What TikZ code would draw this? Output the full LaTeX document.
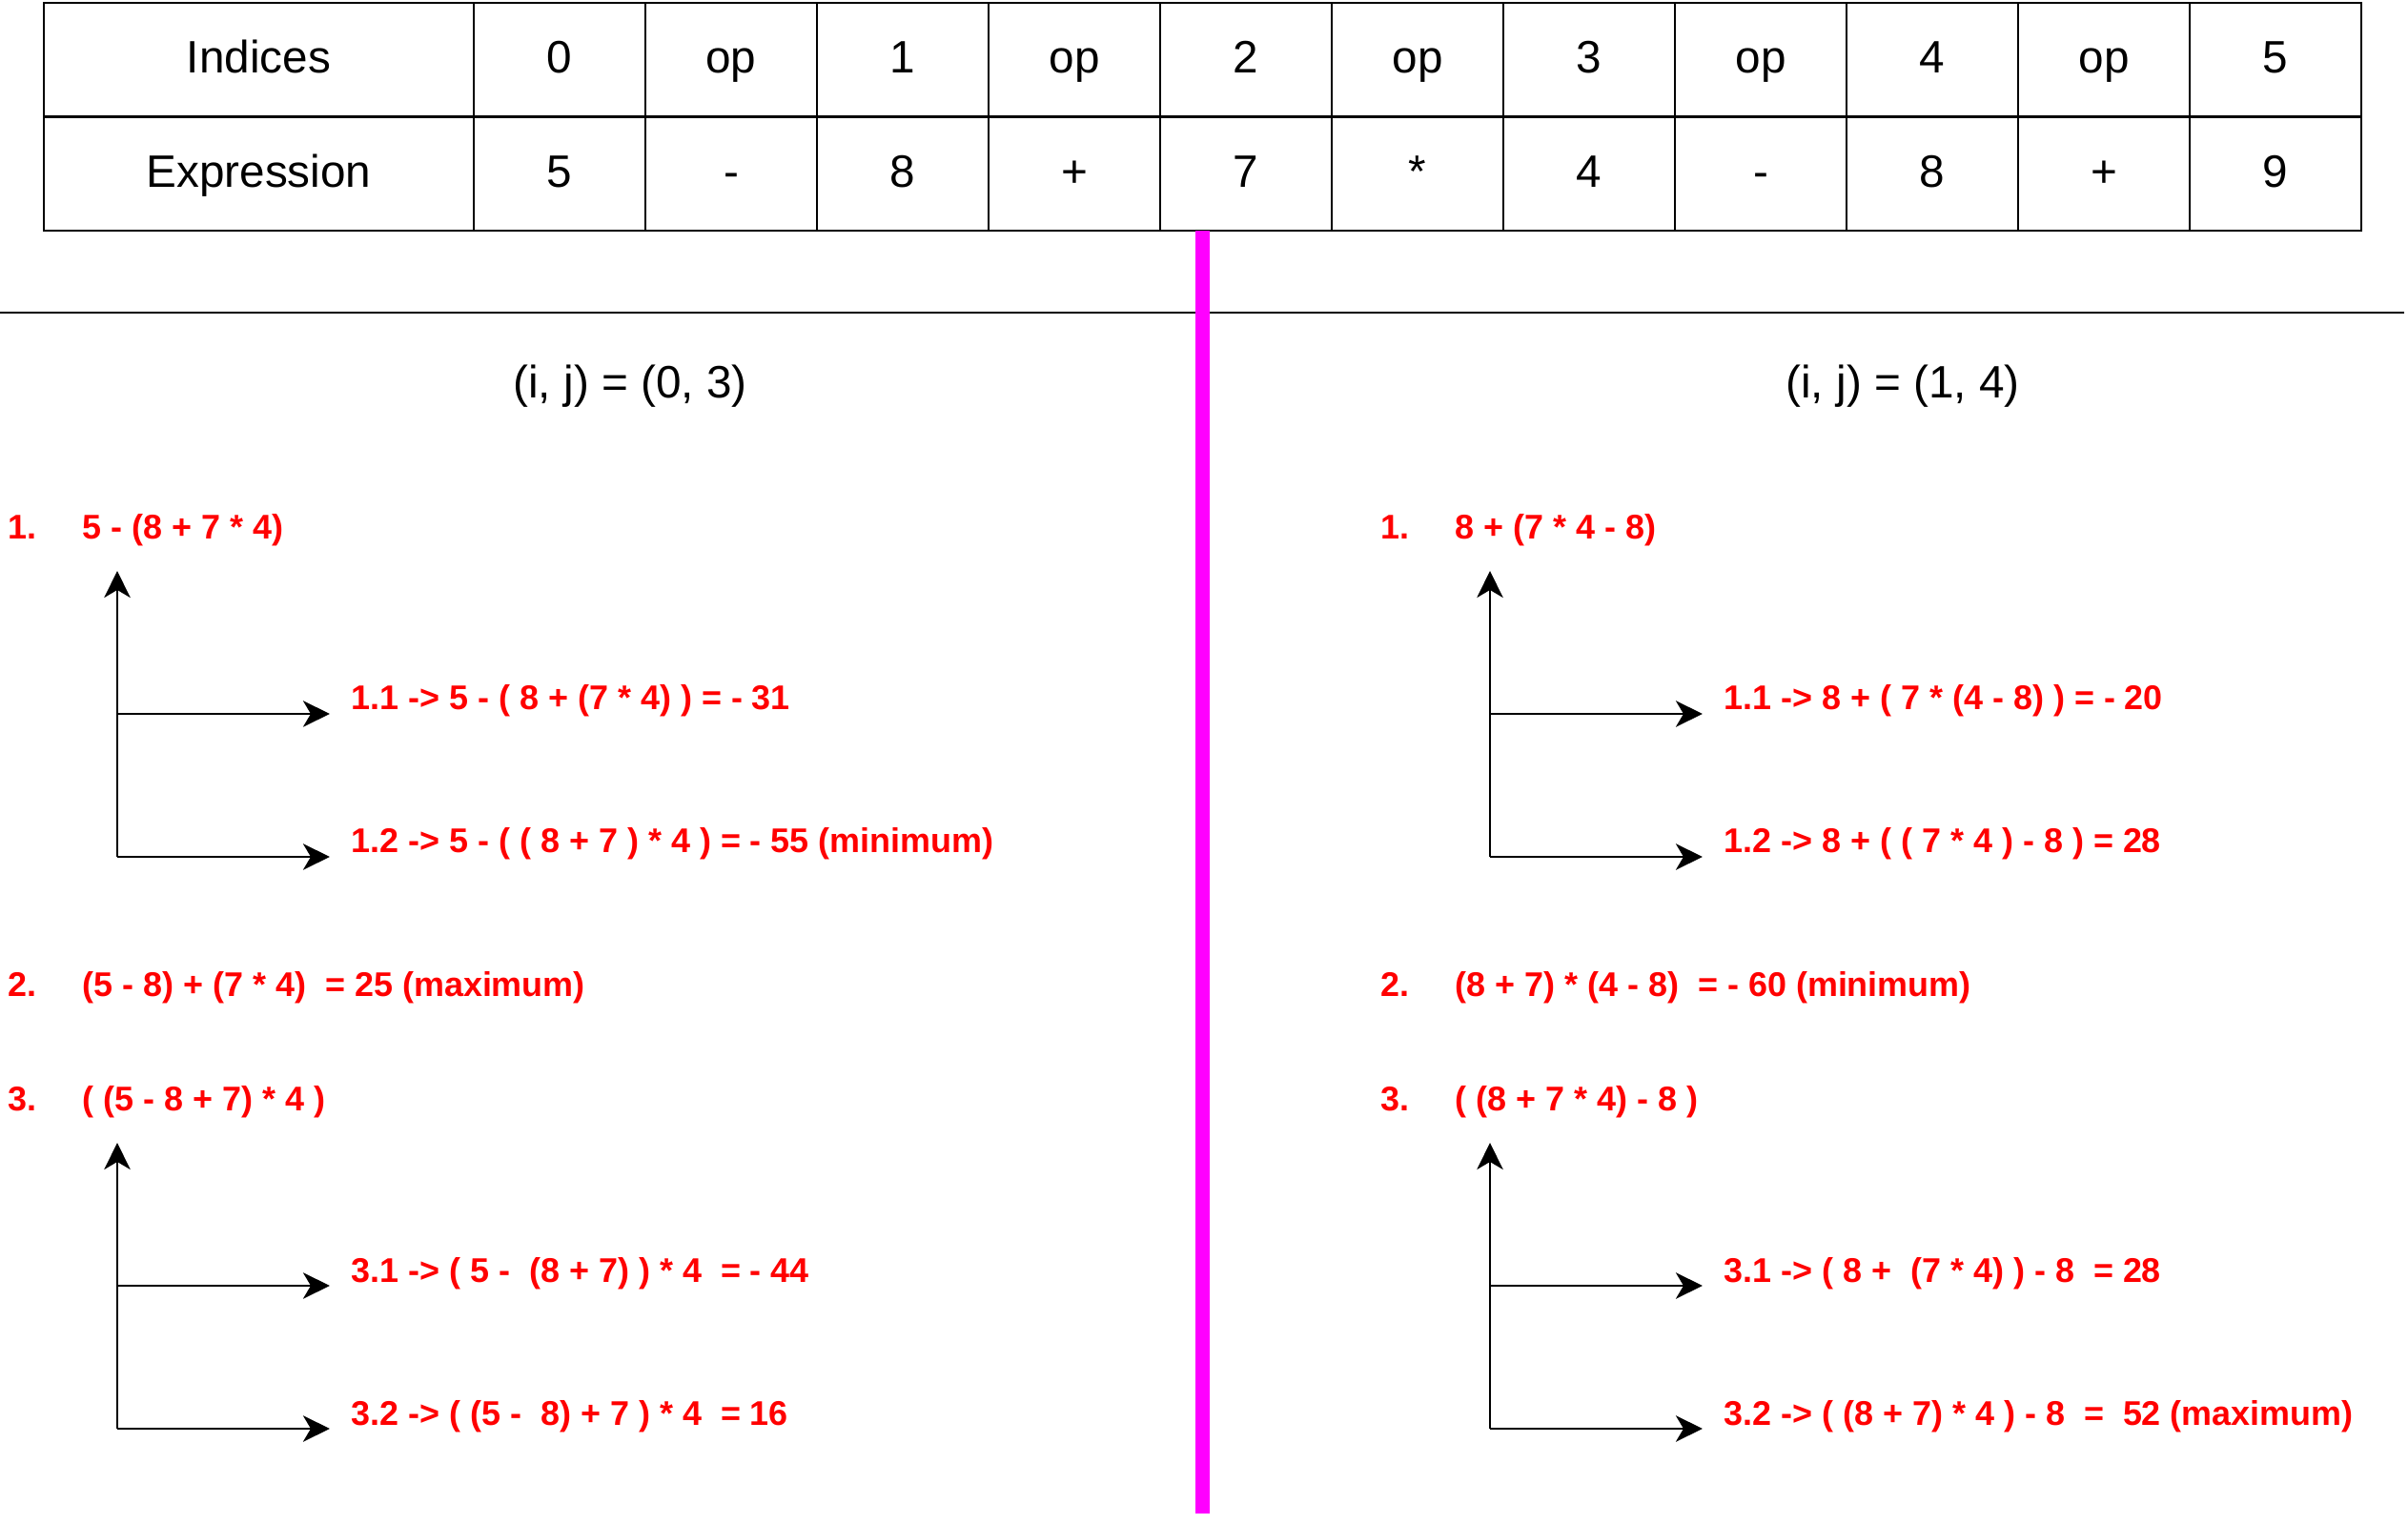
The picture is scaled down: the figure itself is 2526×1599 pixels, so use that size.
\documentclass[tikz,border=0pt]{standalone}
\usepackage{fontspec}
\setmainfont{Liberation Sans}
\usetikzlibrary{arrows.meta}
\definecolor{exred}{HTML}{FF0000}
\definecolor{divmag}{HTML}{FF00FF}
\begin{document}
\begin{tikzpicture}[x=0.3pt,y=-0.3pt,
  cellbox/.style={draw, line width=0.8pt, inner sep=0pt, minimum width=54pt, minimum height=35.85pt,
    text height=10.24pt, text depth=1.8pt, font=\fontsize{14.3}{17}\selectfont},
  headtxt/.style={inner sep=0pt, anchor=base, font=\fontsize{14.3}{17}\selectfont},
  redtxt/.style={inner sep=0pt, anchor=base west, text=exred, font=\fontsize{10.78}{13}\selectfont\bfseries},
  arr/.style={line width=0.85pt, -{Stealth[length=8.4pt,width=8.2pt,inset=2.4pt]}},
  plainline/.style={line width=0.8pt}]
\useasboundingbox (0,0) rectangle (2526,1599);

% table
\node[cellbox, minimum width=135.3pt] (hidx) at (271.5,62.75) {Indices};
\node[cellbox, minimum width=135.3pt] (hexp) at (271.5,182.25) {Expression};
\foreach \t [count=\k from 0] in {0,op,1,op,2,op,3,op,4,op,5}
  \node[cellbox] (i\k) at ({587+180*\k},62.75) {\t};
\foreach \t [count=\k from 0] in {5,-,8,+,7,*,4,-,8,+,9}
  \node[cellbox] (e\k) at ({587+180*\k},182.25) {\t};

% separator and divider
\coordinate (sepL) at (0,328);
\coordinate (sepR) at (2522,328);
\draw[plainline] (sepL) -- (sepR);
\coordinate (divT) at (1261.5,242);
\coordinate (divB) at (1261.5,1588);
\draw[divmag, line width=4.5pt] (divT) -- (divB);

% headings
\node[headtxt] (hl) at (661,418) {(i, j) = (0, 3)};
\node[headtxt] (hr) at (1996,418) {(i, j) = (1, 4)};

% left column texts
\node[redtxt] (l1n) at (8,566) {1.};
\node[redtxt] (l1) at (86,566) {5 - (8 + 7 * 4)};
\node[redtxt] (l11) at (368,745) {1.1 -> 5 - ( 8 + (7 * 4) ) = - 31};
\node[redtxt] (l12) at (368,895) {1.2 -> 5 - ( ( 8 + 7 ) * 4 ) = - 55 (minimum)};
\node[redtxt] (l2n) at (8,1046) {2.};
\node[redtxt] (l2) at (86,1046) {(5 - 8) + (7 * 4)~ = 25 (maximum)};
\node[redtxt] (l3n) at (8,1166) {3.};
\node[redtxt] (l3) at (86,1166) {( (5 - 8 + 7) * 4 )};
\node[redtxt] (l31) at (368,1345) {3.1 -> ( 5 -~ (8 + 7) ) * 4~ = - 44};
\node[redtxt] (l32) at (368,1495) {3.2 -> ( (5 -~ 8) + 7 ) * 4~ = 16};

% right column texts
\node[redtxt] (r1n) at (1448,566) {1.};
\node[redtxt] (r1) at (1526,566) {8 + (7 * 4 - 8)};
\node[redtxt] (r11) at (1808,745) {1.1 -> 8 + ( 7 * (4 - 8) ) = - 20};
\node[redtxt] (r12) at (1808,895) {1.2 -> 8 + ( ( 7 * 4 ) - 8 ) = 28};
\node[redtxt] (r2n) at (1448,1046) {2.};
\node[redtxt] (r2) at (1526,1046) {(8 + 7) * (4 - 8)~ = - 60 (minimum)};
\node[redtxt] (r3n) at (1448,1166) {3.};
\node[redtxt] (r3) at (1526,1166) {( (8 + 7 * 4) - 8 )};
\node[redtxt] (r31) at (1808,1345) {3.1 -> ( 8 +~ (7 * 4) ) - 8~ = 28};
\node[redtxt] (r32) at (1808,1495) {3.2 -> ( (8 + 7) * 4 ) - 8~ =~ 52 (maximum)};

% arrows
\foreach \s/\o in {L/0,R/1440}{
  \foreach \g/\y in {a/0,b/600}{
    \coordinate (\s\g bot) at ({\o+123},{899+\y});
    \coordinate (\s\g top) at ({\o+123},{599+\y});
    \coordinate (\s\g mid) at ({\o+123},{749+\y});
    \coordinate (\s\g e1) at ({\o+346},{749+\y});
    \coordinate (\s\g e2) at ({\o+346},{899+\y});
    \draw[arr] (\s\g bot) -- (\s\g top);
    \draw[arr] (\s\g mid) -- (\s\g e1);
    \draw[arr] (\s\g bot) -- (\s\g e2);
  }
}
\end{tikzpicture}
\end{document}
